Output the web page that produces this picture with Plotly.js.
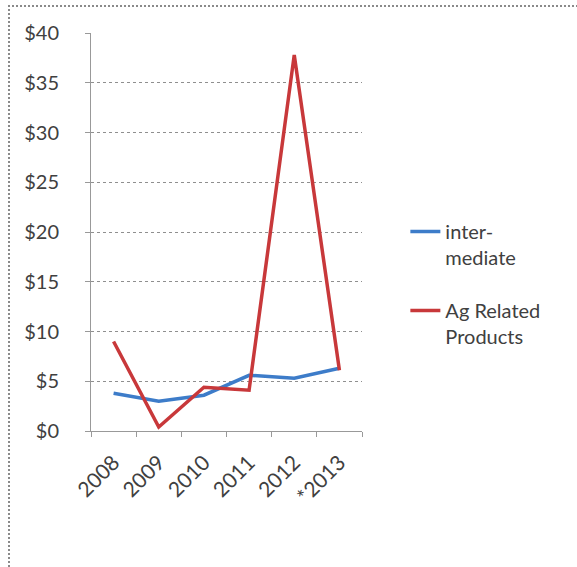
<!DOCTYPE html>
<html>
<head>
<meta charset="utf-8">
<script src="https://cdn.plot.ly/plotly-3.0.1.min.js"></script>
<style>
  html, body { margin: 0; padding: 0; background: #fff; }
  #wrap { position: relative; width: 577px; height: 567px; overflow: hidden; }
  #chart { position: absolute; left: 0; top: 0; width: 577px; height: 567px; }
  #frame { position: absolute; left: 8px; top: 5px; width: 700px; height: 700px;
           border-top: 2px dotted #8a8a8a; border-left: 2px dotted #8a8a8a; pointer-events: none; }
</style>
</head>
<body>
<div id="wrap">
  <div id="chart"></div>
  <div id="frame"></div>
</div>
<script>
const years = ["2008", "2009", "2010", "2011", "2012", "*2013"];
const intermediate = [3.8, 3.0, 3.6, 5.6, 5.3, 6.3];
const agRelated = [9.0, 0.4, 4.4, 4.1, 37.8, 6.1];
const seriesNames = ["inter-<br>mediate", "Ag Related<br>Products"];
const yTickVals = [0, 5, 10, 15, 20, 25, 30, 35, 40];
const yTickText = ["$0", "$5", "$10", "$15", "$20", "$25", "$30", "$35", "$40"];

const fontFam = "Lato, 'Open Sans', sans-serif";
const txtColor = "#404040";

const traces = [
  { x: years, y: intermediate, name: seriesNames[0], type: "scatter", mode: "lines",
    line: { color: "#3d7cc9", width: 3.5 }, legendgroup: "a", hoverinfo: "skip" },
  { x: years, y: agRelated, name: seriesNames[1], type: "scatter", mode: "lines",
    line: { color: "#c8383a", width: 3.5 }, legendgroup: "b", hoverinfo: "skip" }
];

const layout = {
  width: 577, height: 567,
  margin: { l: 91, r: 215, t: 33, b: 136 },
  paper_bgcolor: "#fff", plot_bgcolor: "#fff",
  font: { family: fontFam, size: 20, color: txtColor },
  showlegend: true,
  legend: {
    x: 1.16, xanchor: "left", y: 0.55, yanchor: "top",
    valign: "top", tracegroupgap: 24,
    font: { family: fontFam, size: 20, color: txtColor },
    bgcolor: "rgba(0,0,0,0)"
  },
  xaxis: {
    type: "category", range: [-0.5, 5.5], tickangle: -45, tickson: "boundaries",
    ticks: "outside", ticklen: 5, tickcolor: "#999",
    showline: true, linecolor: "#999", linewidth: 1,
    showgrid: false, zeroline: false, ticklabelstandoff: 10,
    tickfont: { family: fontFam, size: 21, color: txtColor },
    fixedrange: true
  },
  yaxis: {
    range: [0, 40], tickvals: yTickVals, ticktext: yTickText,
    ticks: "outside", ticklen: 5, tickcolor: "#999",
    showline: true, linecolor: "#999", linewidth: 1,
    showgrid: true, gridcolor: "#8f8f8f", griddash: "dot", gridwidth: 1,
    zeroline: false, ticklabelstandoff: 22,
    tickfont: { family: fontFam, size: 20, color: txtColor },
    fixedrange: true
  }
};

Plotly.newPlot("chart", traces, layout, { displayModeBar: false, staticPlot: true });
</script>
</body>
</html>
